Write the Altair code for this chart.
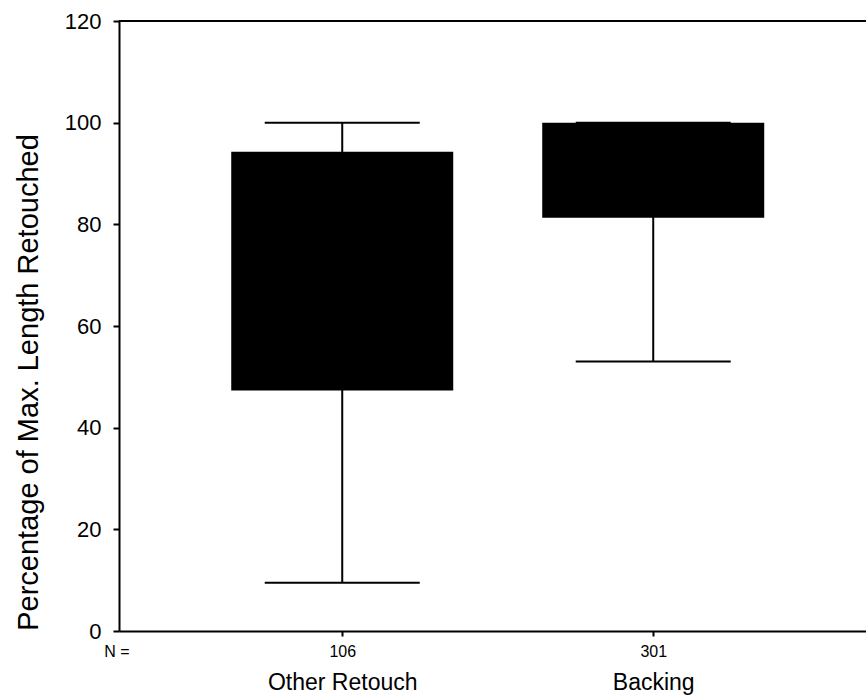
import altair as alt
import pandas as pd

categories = ["Other Retouch", "Backing"]
n_values = ["106", "301"]
lower_whisker = [9.5, 53.0]
q1 = [47.3, 81.3]
q3 = [94.3, 100.0]
upper_whisker = [100.0, 100.0]
y_ticks = [0, 20, 40, 60, 80, 100, 120]

df = pd.DataFrame({
    "cat": categories,
    "n": n_values,
    "lo": lower_whisker,
    "q1": q1,
    "q3": q3,
    "hi": upper_whisker,
})

FONT = "Liberation Sans"
W, H = 747, 610

n_map = "{" + ",".join(f"'{c}':'{n}'" for c, n in zip(categories, n_values)) + "}"

xscale = alt.Scale(type="point", domain=categories, padding=0.701, align=0.512)
yscale = alt.Scale(domain=[0, 120], nice=False, zero=True)

y_axis = alt.Axis(
    values=y_ticks, grid=False, tickSize=6, tickWidth=2, tickColor="black",
    domainColor="black", domainWidth=2, labelFontSize=22, labelFont=FONT,
    labelColor="black", labelPadding=12,
    title="Percentage of Max. Length Retouched", titleFont=FONT,
    titleFontSize=29, titleFontWeight="normal", titleColor="black",
    titleY=361, titleX=-76,
)

x_axis_n = alt.Axis(
    orient="bottom", title=None, labelAngle=0, labelExpr=f"{n_map}[datum.label]",
    labelFont=FONT, labelFontSize=16, labelColor="black", labelPadding=7,
    tickSize=5, tickWidth=2, tickColor="black", domainColor="black",
    domainWidth=2, grid=False,
)

x_axis_cat = alt.Axis(
    orient="bottom", title=None, labelAngle=0, labelFont=FONT,
    labelFontSize=23, labelColor="black", labelPadding=40,
    ticks=False, domain=False, grid=False,
)

base = alt.Chart(df)

boxes = base.mark_bar(color="black", size=222, opacity=1).encode(
    x=alt.X("cat:N", scale=xscale, axis=x_axis_n, sort=categories),
    y=alt.Y("q1:Q", scale=yscale, axis=y_axis),
    y2="q3:Q",
)

whiskers = base.mark_rule(color="black", strokeWidth=2, opacity=1).encode(
    x=alt.X("cat:N", scale=xscale, axis=x_axis_cat, sort=categories),
    y=alt.Y("lo:Q", scale=yscale),
    y2="hi:Q",
)

cap_lo = base.mark_tick(color="black", size=155, thickness=2, opacity=1).encode(
    x=alt.X("cat:N", scale=xscale, sort=categories, axis=None),
    y=alt.Y("lo:Q", scale=yscale),
)
cap_hi = base.mark_tick(color="black", size=155, thickness=2, opacity=1).encode(
    x=alt.X("cat:N", scale=xscale, sort=categories, axis=None),
    y=alt.Y("hi:Q", scale=yscale),
)

top_line = alt.Chart(pd.DataFrame({"v": [120]})).mark_rule(
    color="black", strokeWidth=2
).encode(y=alt.Y("v:Q", scale=yscale))

n_label = alt.Chart(pd.DataFrame({"t": ["N ="]})).mark_text(
    font=FONT, fontSize=16, color="black", align="center", baseline="middle"
).encode(text="t:N", x=alt.value(-2), y=alt.value(H + 21))

chart = alt.layer(
    boxes, whiskers, cap_lo, cap_hi, top_line, n_label
).resolve_axis(x="independent").properties(
    width=W, height=H,
    autosize=alt.AutoSizeParams(type="none"),
    padding={"left": 119, "top": 21, "right": 0, "bottom": 65},
).configure_view(strokeWidth=0).configure(background="white")

chart.save("out.html", embed_options={"renderer": "svg", "actions": False})
